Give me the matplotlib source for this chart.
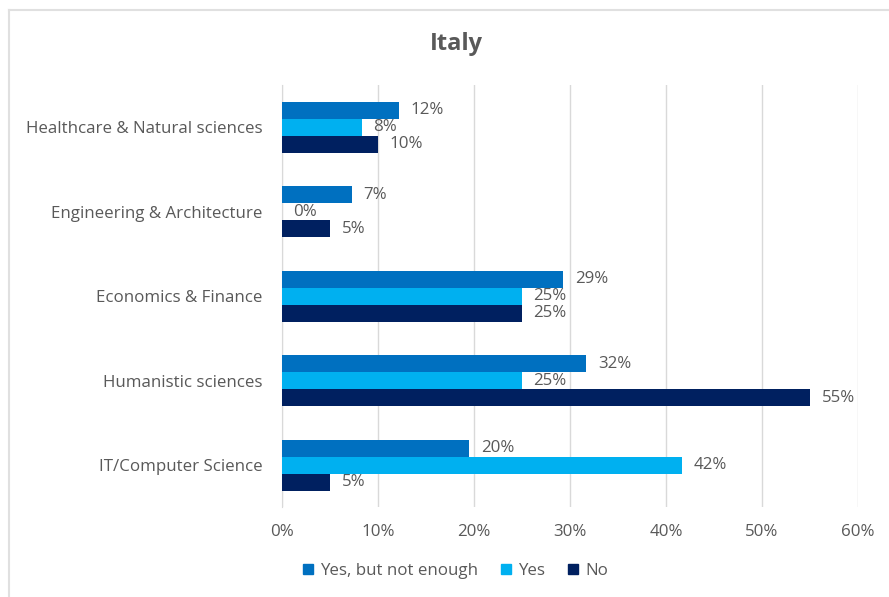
import numpy as np
import matplotlib
matplotlib.use("Agg")
from matplotlib import pyplot as plt
from matplotlib.lines import Line2D

categories = ["Healthcare & Natural sciences", "Engineering & Architecture",
              "Economics & Finance", "Humanistic sciences", "IT/Computer Science"]
series_names = ["Yes, but not enough", "Yes", "No"]
yes_not_enough = [12.2, 7.3, 29.3, 31.7, 19.5]
yes = [8.3, 0.0, 25.0, 25.0, 41.7]
no = [10.0, 5.0, 25.0, 55.0, 5.0]
colors = ["#0070C0", "#00B0F0", "#002060"]
xticks = [0, 10, 20, 30, 40, 50, 60]

plt.rcParams['font.family'] = ['Open Sans', 'DejaVu Sans']
grey = "#595959"
fs = 12.2

fig = plt.figure(figsize=(8.89, 5.97), dpi=100)
ax = fig.add_axes([0.3172, 0.150, 0.6479, 0.7077])

y = np.arange(len(categories))
h = 0.2
for i, (vals, c, name) in enumerate(zip([yes_not_enough, yes, no], colors, series_names)):
    pos = y + (i - 1) * h
    ax.barh(pos, vals, height=h, color=c, label=name, zorder=3)
    for p, v in zip(pos, vals):
        ax.text(v + 1.2, p, "%d%%" % round(v), va="center", ha="left",
                fontsize=fs, color=grey)

ax.set_xlim(0, 60)
ax.set_ylim(len(categories) - 0.5, -0.5)
ax.set_xticks(xticks)
ax.set_xticklabels(["%d%%" % t for t in xticks], fontsize=fs, color=grey)
ax.set_yticks(y)
ax.set_yticklabels(categories, fontsize=fs, color=grey)
ax.tick_params(length=0, pad=14, axis="y")
ax.tick_params(length=0, pad=12, axis="x")
ax.xaxis.grid(True, color="#D9D9D9", linewidth=1, zorder=0)
for s in ["top", "right", "bottom"]:
    ax.spines[s].set_visible(False)
ax.spines["left"].set_color("#D9D9D9")

fig.text(0.513, 0.926, "Italy", ha="center", va="center", fontsize=17,
         fontweight="bold", color=grey)

handles = [Line2D([], [], marker="s", linestyle="none", color=c, markersize=7.5)
           for c in colors]
fig.legend(handles, series_names, loc="center", bbox_to_anchor=(0.512, 0.043),
           ncol=3, frameon=False, fontsize=fs, labelcolor=grey,
           handlelength=0.7, handletextpad=0.35, columnspacing=1.3)

fig.add_artist(Line2D([0.010, 0.010], [0.0, 0.983], color="#E0E0E0", linewidth=1.5))
fig.add_artist(Line2D([0.010, 1.0], [0.983, 0.983], color="#E0E0E0", linewidth=1.5))

fig.savefig("out.png", dpi=100)
